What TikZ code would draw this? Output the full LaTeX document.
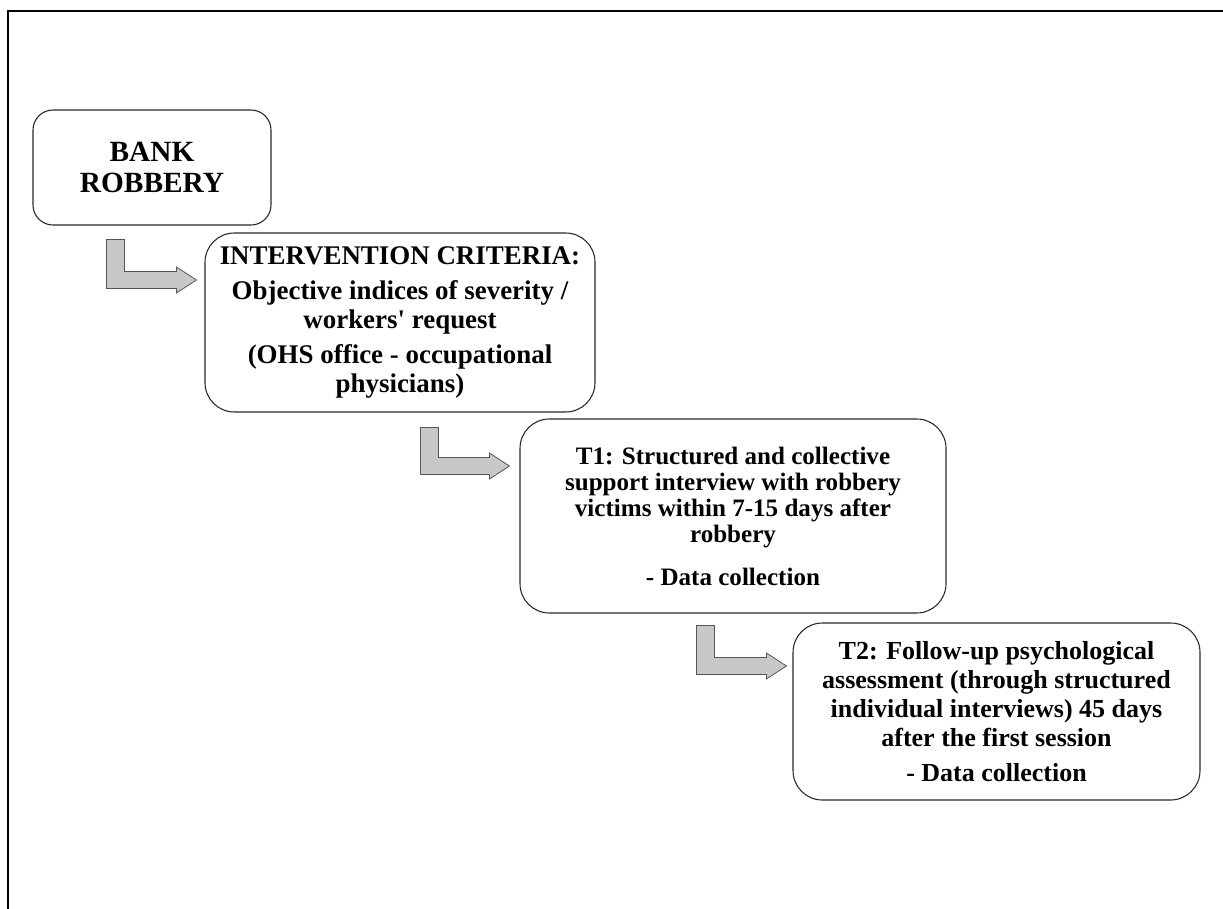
\documentclass[tikz,border=0pt]{standalone}
\usepackage{fontspec}
\setmainfont{Liberation Serif}
\newfontfamily\boxfont{Liberation Serif}
\usetikzlibrary{calc}
\definecolor{arrowfill}{RGB}{200,200,200}
\definecolor{arrowline}{RGB}{85,85,85}
\definecolor{boxline}{RGB}{40,40,40}
\tikzset{
  stepbox/.style={draw=boxline, line width=0.8pt, align=center, inner sep=0pt,
    font=\boxfont\bfseries\fontsize{19.5}{21.75}\selectfont},
  barrow/.style={fill=arrowfill, draw=arrowline, line width=0.6pt, line join=miter},
}
\newcommand\blockarrow[2]{%
  \draw[barrow] let \p1=(#1), \p2=(#2) in
    (\x1,\y1) -- (\x1+13.5pt,\y1) -- (\x1+13.5pt,\y2+6.375pt)
    -- (\x2-15pt,\y2+6.375pt) -- (\x2-15pt,\y2+9.75pt) -- (\x2,\y2)
    -- (\x2-15pt,\y2-9.75pt) -- (\x2-15pt,\y2-6.375pt) -- (\x1,\y2-6.375pt) -- cycle;}
\begin{document}
\begin{tikzpicture}[x=0.75pt, y=-0.75pt]
\useasboundingbox (0,0) rectangle (1223,909);
\fill[white] (0,0) rectangle (1223,909);
% frame
\draw[line width=1.5pt] (8,909) -- (8,11) -- (1223,11);
% boxes
\node[stepbox, rounded corners=15pt, minimum width={238*0.75pt}, minimum height={115*0.75pt},
  font=\boxfont\bfseries\fontsize{22}{23.25}\selectfont] (b1) at (152,167.5) {BANK\\ROBBERY};
\node[stepbox, rounded corners=22pt, minimum width={390*0.75pt}, minimum height={179*0.75pt},
  font=\boxfont\bfseries\fontsize{20.2}{21.75}\selectfont]
  (b2) at (400,322.5) {INTERVENTION CRITERIA:\\[4.5pt]Objective indices of severity /\\workers' request\\[4.5pt](OHS office - occupational\\physicians)};
\node[stepbox, rounded corners=22pt, minimum width={426*0.75pt}, minimum height={194*0.75pt},
  font=\boxfont\bfseries\fontsize{18.8}{19.5}\selectfont]
  (b3) at (733,516) {T1: Structured and collective\\support interview with robbery\\victims within 7-15 days after\\robbery\\[12.75pt]- Data collection};
\node[stepbox, rounded corners=22pt, minimum width={407*0.75pt}, minimum height={177*0.75pt}]
  (b4) at (996.5,711.5) {T2: Follow-up psychological\\assessment (through structured\\individual interviews) 45 days\\after the first session\\[5pt]- Data collection};
% arrow anchors
\coordinate (a1s) at ($(b1.south west)+(74,14)$);
\coordinate (a1e) at ($(b2.west)+(-8,-42.5)$);
\coordinate (a2s) at ($(b2.south west)+(216,15)$);
\coordinate (a2e) at ($(b3.west)+(-10,-50)$);
\coordinate (a3s) at ($(b3.south west)+(177,12)$);
\coordinate (a3e) at ($(b4.west)+(-6,-45.5)$);
\blockarrow{a1s}{a1e}
\blockarrow{a2s}{a2e}
\blockarrow{a3s}{a3e}
\end{tikzpicture}
\end{document}
